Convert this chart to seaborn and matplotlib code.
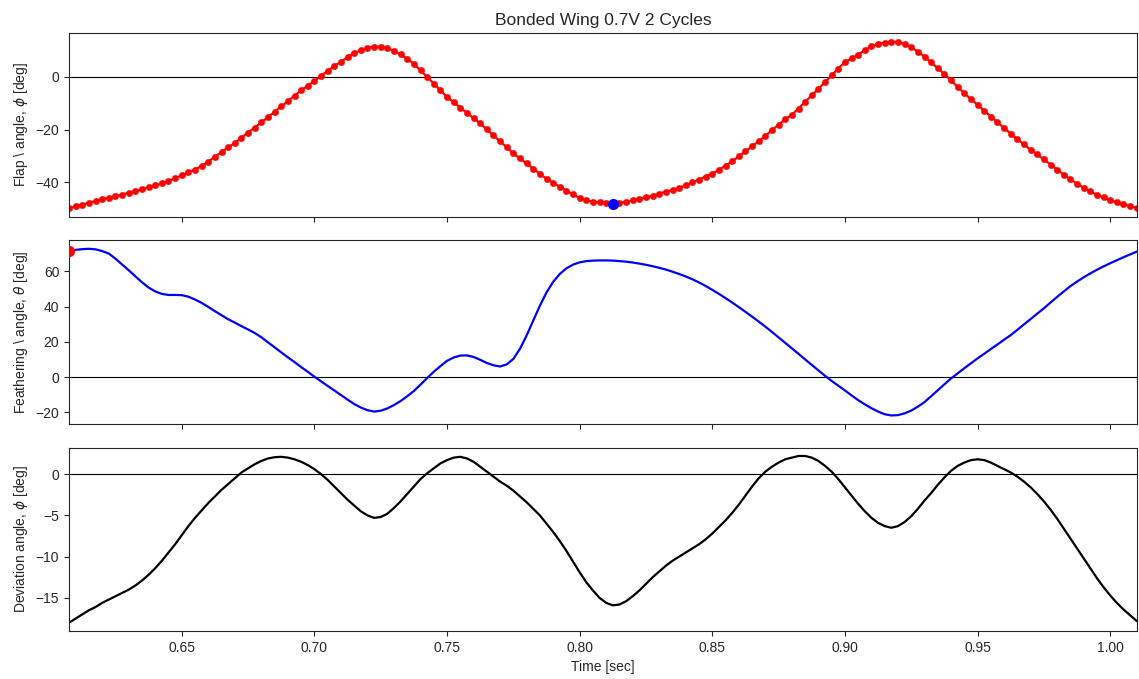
import numpy as np
import pandas as pd
import matplotlib
matplotlib.use("Agg")
import matplotlib.pyplot as plt
import seaborn as sns

# ---- data (sampled every 2.5 ms) ----
t_start = 0.6075
dt = 0.0025

flap_angle = [
    -49.8, -49.1, -48.4, -47.7, -47.0, -46.4, -45.8, -45.2, -44.6, -44.0,
    -43.4, -42.6, -41.9, -41.1, -40.4, -39.5, -38.4, -37.3, -36.2, -35.1,
    -33.8, -32.1, -30.3, -28.5, -26.7, -25.0, -23.0, -21.1, -19.2, -17.2,
    -15.3, -13.2, -11.2, -9.2, -7.1, -5.1, -3.3, -1.5, 0.4, 2.3,
    4.1, 5.8, 7.5, 9.1, 10.1, 11.0, 11.5, 11.4, 11.0, 9.8,
    8.6, 6.9, 5.0, 2.5, 0.0, -2.5, -5.1, -7.6, -9.6, -11.6,
    -13.6, -15.6, -17.6, -19.9, -22.2, -24.4, -26.7, -29.0, -30.9, -32.8,
    -34.8, -36.7, -38.6, -40.2, -41.6, -43.1, -44.5, -46.0, -46.6, -47.3,
    -47.6, -47.8, -48.0, -47.7, -47.4, -46.8, -46.2, -45.6, -45.0, -44.2,
    -43.5, -42.8, -42.1, -41.1, -40.0, -38.9, -37.8, -36.7, -35.2, -33.6,
    -32.0, -30.1, -28.2, -26.3, -24.4, -22.3, -20.2, -18.1, -16.1, -14.3,
    -12.0, -9.4, -7.0, -4.5, -2.0, 0.6, 3.2, 5.6, 7.0, 8.5,
    10.1, 11.7, 12.5, 13.0, 13.4, 13.1, 12.6, 11.2, 9.6, 7.7,
    5.5, 3.3, 1.1, -1.3, -3.8, -6.2, -8.4, -10.6, -12.8, -15.0,
    -17.2, -19.4, -21.5, -23.6, -25.6, -27.6, -29.4, -31.3, -33.2, -35.2,
    -37.0, -38.8, -40.5, -42.0, -43.4, -44.7, -45.7, -46.7, -47.5, -48.3,
    -49.0, -49.6,
]

feathering_angle = [
    71.3, 72.2, 72.6, 72.8, 72.5, 71.5, 70.1, 67.2, 63.9, 60.6,
    57.2, 53.8, 50.8, 48.6, 47.2, 46.6, 46.6, 46.5, 45.6, 44.0,
    42.1, 39.8, 37.4, 35.1, 32.8, 30.9, 28.9, 27.0, 25.0, 22.6,
    19.7, 16.9, 14.0, 11.2, 8.5, 5.7, 3.0, 0.2, -2.4, -5.0,
    -7.6, -10.2, -12.8, -15.3, -17.3, -18.8, -19.6, -19.1, -17.8, -15.9,
    -13.6, -10.9, -7.9, -4.3, -0.6, 3.0, 6.2, 9.2, 11.1, 12.2,
    12.3, 11.4, 9.8, 8.0, 6.7, 6.0, 7.2, 10.3, 16.0, 23.6,
    32.0, 40.5, 48.0, 54.0, 58.5, 61.7, 63.8, 65.1, 65.8, 66.1,
    66.2, 66.2, 66.1, 65.8, 65.5, 65.0, 64.4, 63.7, 62.9, 62.0,
    61.0, 59.8, 58.5, 57.1, 55.5, 53.7, 51.7, 49.5, 47.2, 44.8,
    42.3, 39.7, 37.0, 34.3, 31.5, 28.6, 25.6, 22.5, 19.4, 16.3,
    13.2, 10.0, 6.9, 3.8, 0.7, -2.2, -4.9, -7.6, -10.4, -13.1,
    -15.5, -17.7, -19.6, -21.1, -21.8, -21.6, -20.6, -19.0, -16.8, -14.2,
    -10.9, -7.5, -4.1, -0.8, 2.1, 5.0, 7.8, 10.6, 13.2, 15.9,
    18.5, 21.2, 23.8, 26.8, 29.9, 32.9, 36.0, 39.0, 42.3, 45.5,
    48.6, 51.6, 54.2, 56.6, 58.8, 60.9, 62.8, 64.6, 66.3, 68.0,
    69.6, 71.2,
]

deviation_angle = [
    -18.0, -17.5, -17.0, -16.5, -16.1, -15.6, -15.2, -14.8, -14.4, -14.0,
    -13.5, -12.9, -12.2, -11.4, -10.5, -9.5, -8.5, -7.4, -6.3, -5.3,
    -4.4, -3.5, -2.7, -1.9, -1.2, -0.5, 0.2, 0.7, 1.2, 1.6,
    1.9, 2.05, 2.1, 2.0, 1.8, 1.5, 1.1, 0.6, 0.0, -0.7,
    -1.5, -2.3, -3.1, -3.8, -4.5, -5.0, -5.3, -5.2, -4.8, -4.1,
    -3.3, -2.4, -1.5, -0.6, 0.1, 0.7, 1.3, 1.7, 2.0, 2.1,
    1.9, 1.5, 0.9, 0.3, -0.3, -0.9, -1.4, -2.0, -2.7, -3.4,
    -4.2, -5.0, -6.0, -7.0, -8.1, -9.3, -10.6, -11.9, -13.1, -14.1,
    -15.0, -15.6, -15.9, -15.8, -15.4, -14.8, -14.1, -13.3, -12.5, -11.8,
    -11.1, -10.5, -10.0, -9.5, -9.0, -8.5, -7.9, -7.2, -6.4, -5.6,
    -4.7, -3.7, -2.6, -1.5, -0.5, 0.3, 0.9, 1.4, 1.8, 2.0,
    2.2, 2.2, 2.0, 1.6, 1.0, 0.3, -0.6, -1.6, -2.6, -3.6,
    -4.5, -5.3, -5.9, -6.3, -6.5, -6.3, -5.8, -5.1, -4.2, -3.2,
    -2.3, -1.3, -0.4, 0.4, 1.0, 1.4, 1.7, 1.8, 1.7, 1.4,
    1.0, 0.6, 0.2, -0.3, -0.9, -1.6, -2.4, -3.3, -4.3, -5.4,
    -6.6, -7.8, -9.0, -10.2, -11.4, -12.6, -13.7, -14.7, -15.6, -16.4,
    -17.1, -17.8,
]

flap_marker_idx = 82      # current frame highlighted on the flap trace
feather_marker_idx = 0    # current frame highlighted on the feathering trace

title = "Bonded Wing 0.7V 2 Cycles"
flap_label = r"Flap \ angle, $\phi$ [deg]"
feather_label = r"Feathering \ angle, $\theta$ [deg]"
deviation_label = r"Deviation angle, $\phi$ [deg]"
time_label = "Time [sec]"

time = np.round(t_start + dt * np.arange(len(flap_angle)), 4)
df = pd.DataFrame({
    "time": time,
    "flap": flap_angle,
    "feather": feathering_angle,
    "deviation": deviation_angle,
})

# ---- style ----
sns.set_style("ticks")
plt.rcParams["font.family"] = ["Liberation Sans", "DejaVu Sans"]
plt.rcParams["font.size"] = 10

fig, axes = plt.subplots(3, 1, sharex=True, figsize=(11.39, 6.79), dpi=100)
fig.subplots_adjust(left=0.0606, right=0.998, top=0.951, bottom=0.0707, hspace=0.13)
ax1, ax2, ax3 = axes

sns.lineplot(data=df, x="time", y="flap", ax=ax1, color="red", lw=1.6,
             marker="o", markersize=4.6, markeredgecolor="red", markeredgewidth=0.3,
             sort=False)
ax1.plot(df["time"].iloc[flap_marker_idx], df["flap"].iloc[flap_marker_idx],
         "o", color="blue", markersize=7, zorder=5)

sns.lineplot(data=df, x="time", y="feather", ax=ax2, color="blue", lw=1.6, sort=False)
ax2.plot(df["time"].iloc[feather_marker_idx], df["feather"].iloc[feather_marker_idx],
         "o", color="red", markersize=7, zorder=5)

sns.lineplot(data=df, x="time", y="deviation", ax=ax3, color="black", lw=1.6, sort=False)

for ax in axes:
    ax.axhline(0, color="black", lw=0.8, zorder=0)
    ax.set_xlim(df["time"].min(), df["time"].max())
    ax.tick_params(labelsize=10)

ax1.set_ylabel(flap_label, fontsize=10)
ax2.set_ylabel(feather_label, fontsize=10)
ax3.set_ylabel(deviation_label, fontsize=10)
ax1.set_xlabel("")
ax2.set_xlabel("")
ax3.set_xlabel(time_label, fontsize=10)
ax1.set_title(title, fontsize=12.5)

ax1.set_yticks([-40, -20, 0])
ax2.set_yticks([-20, 0, 20, 40, 60])
ax3.set_yticks([-15, -10, -5, 0])
ax3.set_xticks([0.65, 0.70, 0.75, 0.80, 0.85, 0.90, 0.95, 1.00])
ax3.set_xticklabels(["0.65", "0.70", "0.75", "0.80", "0.85", "0.90", "0.95", "1.00"])

fig.savefig("out.png", dpi=100)
